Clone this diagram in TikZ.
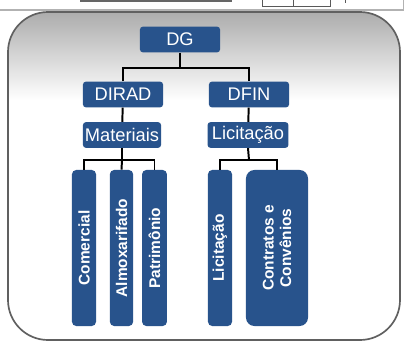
\documentclass[tikz,border=0pt]{standalone}
\usepackage{fontspec}
\setmainfont{Liberation Sans}
\usepackage{tikz}
\usetikzlibrary{calc}
\usetikzlibrary{positioning}
\definecolor{boxblue}{RGB}{40,83,140}

\tikzset{
  unit/.style={fill=boxblue, text=white, rounded corners=2pt, inner sep=0pt,
    minimum width=2cm, minimum height=0.64cm, font=\fontsize{13}{15}\selectfont},
  leaf/.style={fill=boxblue, text=white, rounded corners=3pt, inner sep=0pt,
    rotate=90, minimum width=3.9cm, minimum height=0.6cm, align=center,
    font=\fontsize{11}{12.5}\selectfont\bfseries},
  link/.style={black, line width=1.4pt}
}

\begin{document}
\begin{tikzpicture}[x=0.025cm, y=-0.025cm]
\useasboundingbox (0,0) rectangle (404,343);

% what is left of the slide above
\fill[gray!80!black] (80,0) rectangle (232,1.6);
\draw[gray!70!black, line width=0.6pt] (262,-1) rectangle (330,6);
\draw[gray!70!black, line width=0.6pt] (293,-1) -- (293,6);
\draw[gray!70!black, line width=0.6pt] (345,0) -- (345,3);
\draw[gray!60, line width=1pt] (0,10) -- (404,10);
\draw[gray!60, line width=0.6pt] (403,0) -- (403,10);

% panel
\begin{scope}
\clip[rounded corners=1cm] (8,12) rectangle (400,340);
\fill[white] (0,0) rectangle (404,343);
\shade[top color=gray!65, bottom color=white] (0,12) rectangle (404,100);
\end{scope}
\draw[gray!75!black, line width=1.2pt, rounded corners=1cm] (8,12) rectangle (400,340);

\node[unit] (DG) at (180,39.5) {DG};
\node[unit] (DIRAD) at (123,94.5) {DIRAD};
\node[unit] (DFIN) at (249,94.5) {DFIN};
\node[unit, minimum width=1.95cm] (Materiais) at (122,135) {Materiais};
\node[unit, minimum width=2.02cm] (LicitacaoUnit) at (248,135) {Licitação};

\node[leaf] (Comercial) at (84,248) {Comercial};
\node[leaf, minimum height=0.58cm] (Almoxarifado) at (121.5,248) {Almoxarifado};
\node[leaf, minimum height=0.62cm] (Patrimonio) at (154.5,248) {Patrimônio};
\node[leaf] (Licitacao) at (220,248) {Licitação};
\node[leaf, minimum height=1.55cm, rounded corners=6pt] (Contratos) at (277,248) {Contratos e\\Convênios};

\coordinate (J1) at (180,68);
\coordinate (J2) at (122,160);
\coordinate (J3) at (249,160);

\draw[link] (DG) -- (J1);
\draw[link] (DIRAD.north) |- (J1) -| (DFIN.north);
\draw[link] (DIRAD) -- (Materiais);
\draw[link] (DFIN) -- (LicitacaoUnit);
\draw[link] (Materiais.south) -- (J2);
\draw[link] (Comercial.east) |- (J2) -| (Patrimonio.east);
\draw[link] (Almoxarifado.east) -- (J2);
\draw[link] (LicitacaoUnit.south) -- (J3);
\draw[link] (Licitacao.east) |- (J3) -| (Contratos.east);

\end{tikzpicture}
\end{document}
